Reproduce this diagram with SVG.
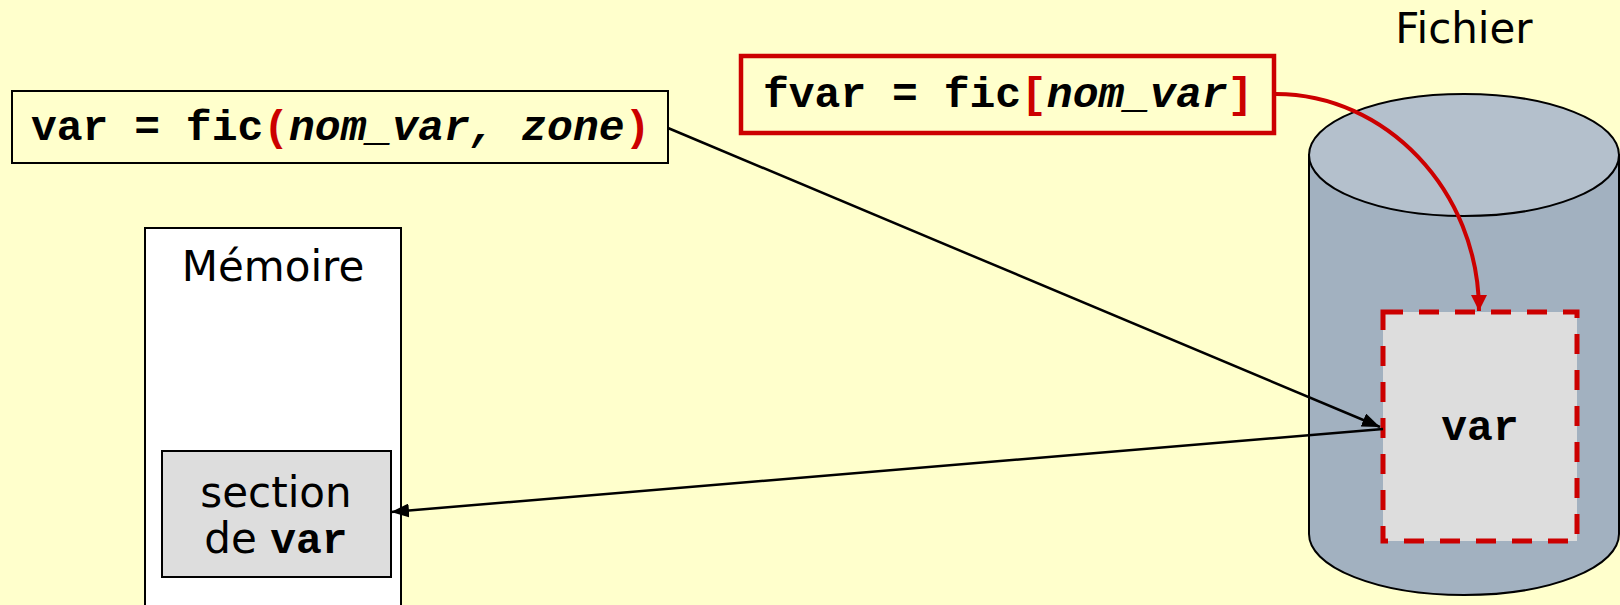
<svg xmlns="http://www.w3.org/2000/svg" width="1620" height="605" viewBox="0 0 1620 605">
<defs>
<style>
.code{font-family:"Liberation Mono","Courier New",monospace;font-weight:bold;font-size:43px;fill:#000}
.it{font-style:italic}
.red{fill:#cc0000}
.sans{font-family:"DejaVu Sans",Verdana,sans-serif;font-size:42px;fill:#000}
.conn{fill:none;stroke:#000;stroke-width:2.5}
</style>
<marker id="ah" viewBox="0 0 18 14" refX="18" refY="7" markerWidth="18" markerHeight="14" orient="auto" markerUnits="userSpaceOnUse"><path d="M0,0 L18,7 L0,14 Z" fill="#000"/></marker>
<marker id="ahr" viewBox="0 0 16 16" refX="16" refY="8" markerWidth="16" markerHeight="16" orient="auto" markerUnits="userSpaceOnUse"><path d="M0,0 L16,8 L0,16 Z" fill="#cc0000"/></marker>
</defs>
<rect x="0" y="0" width="1620" height="605" fill="#ffffcc"/>

<g id="fichier-label">
<text class="sans" x="1464" y="43" text-anchor="middle">Fichier</text>
</g>

<g id="cylinder">
<path d="M1309,155 L1309,534 A155,61 0 0 0 1619,534 L1619,155 Z" fill="#a2b1c0" stroke="#000" stroke-width="2"/>
<ellipse cx="1464" cy="155" rx="155" ry="61" fill="#b4c0cc" stroke="#000" stroke-width="2"/>
</g>

<g id="var-zone">
<rect x="1383" y="312" width="194" height="229" fill="#dddddd" stroke="#cc0000" stroke-width="5" stroke-dasharray="20,16"/>
<text class="code" x="1480" y="440" text-anchor="middle">var</text>
</g>

<g id="memoire">
<rect x="145" y="228" width="256" height="400" fill="#ffffff" stroke="#000" stroke-width="2"/>
<text class="sans" x="273" y="281" text-anchor="middle">Mémoire</text>
</g>

<g id="section">
<rect x="162" y="451" width="229" height="126" fill="#dddddd" stroke="#000" stroke-width="2"/>
<text class="sans" x="276" y="507" text-anchor="middle">section</text>
<text x="276" y="553" text-anchor="middle"><tspan class="sans">de </tspan><tspan class="code">var</tspan></text>
</g>

<g id="box-fic-call">
<rect x="12" y="91" width="656" height="72" fill="#ffffcc" stroke="#000" stroke-width="2"/>
<text class="code" x="31" y="140">var = fic<tspan class="red">(</tspan><tspan class="it">nom_var, zone</tspan><tspan class="red">)</tspan></text>
</g>

<g id="box-fic-index">
<rect x="741" y="56" width="533" height="77" fill="#ffffcc" stroke="#cc0000" stroke-width="4.5"/>
<text class="code" x="763" y="107">fvar = fic<tspan class="red">[</tspan><tspan class="it">nom_var</tspan><tspan class="red">]</tspan></text>
</g>

<g id="connectors">
<path class="conn" d="M668,128 L1380,427" marker-end="url(#ah)"/>
<path class="conn" d="M1383,429 L391,512" marker-end="url(#ah)"/>
<path d="M1276,94 C1385,94 1479,190 1479,311" fill="none" stroke="#cc0000" stroke-width="4" marker-end="url(#ahr)"/>
</g>
</svg>
